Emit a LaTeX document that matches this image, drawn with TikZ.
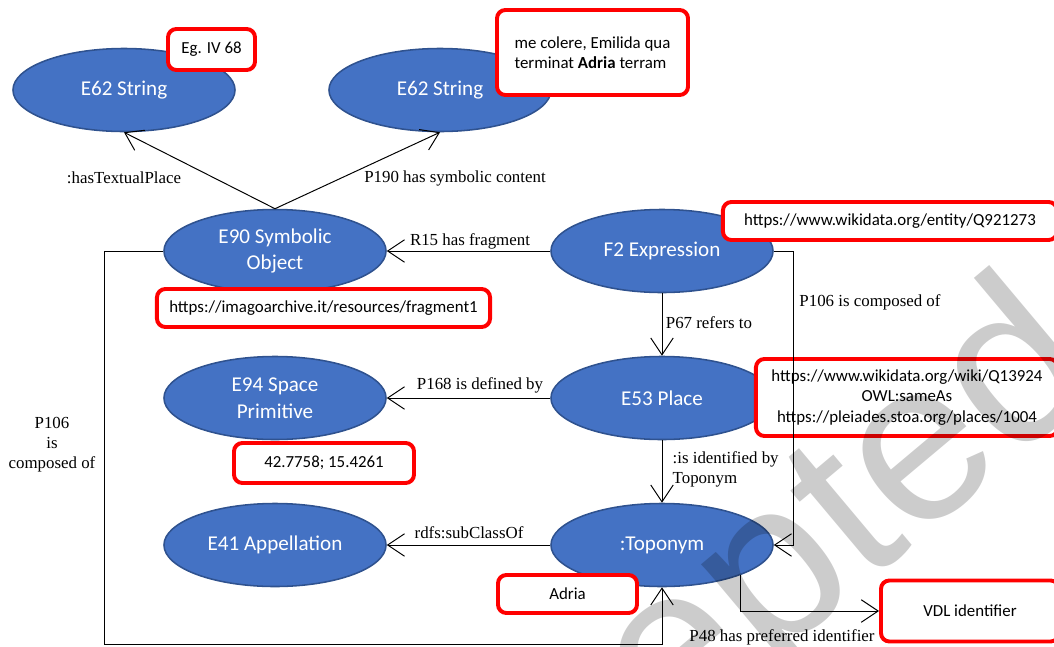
\documentclass[tikz,border=0pt]{standalone}
\usepackage{fontspec}
\setmainfont{Liberation Serif}
\newfontfamily\calibri{Carlito}
\newfontfamily\wmfont{Liberation Sans}
\usetikzlibrary{shapes.geometric,arrows.meta}
\definecolor{entblue}{HTML}{4472C4}
\definecolor{entborder}{HTML}{2F528F}

\begin{document}
\begin{tikzpicture}[x=0.025cm, y=-0.025cm,
    entity/.style ={ellipse, draw=entborder, line width=1.1pt, fill=entblue, text=white,
      minimum width=5.55cm, minimum height=2.075cm, inner sep=0pt, align=center,
      font=\calibri\fontsize{15}{19}\selectfont},
    literal/.style ={rectangle, rounded corners=6pt, draw=red, line width=2.8pt, fill=white,
      inner sep=0pt, align=center, font=\calibri\fontsize{12}{14.5}\selectfont},
    rel/.style ={line width=0.7pt, -{Straight Barb[length=12pt,width=16pt]}},
    relname/.style ={inner sep=1pt, align=center, font=\fontsize{12}{14.2}\selectfont},
    watermark/.style ={rotate=40, text=black, opacity=0.2, inner sep=0pt,
      font=\wmfont\fontsize{162}{162}\selectfont}]
   \useasboundingbox (0,0) rectangle (1054,646);
   \clip (0,0) rectangle (1054,646);
   % classes
   \node[entity] (str1) at (124,90) {E62 String};
   \node[entity] (str2) at (440,90) {E62 String};
   \node[entity] (symobj) at (275,251) {E90 Symbolic\\Object};
   \node[entity] (expr) at (662,251) {F2 Expression};
   \node[entity] (spaceprim) at (275,398) {E94 Space\\Primitive};
   \node[entity] (place) at (662,398) {E53 Place};
   \node[entity] (appel) at (275,545) {E41 Appellation};
   \node[entity] (topo) at (662,545) {:Toponym};
   % instances
   \node[literal, minimum width=2.175cm, minimum height=1.025cm] (eg) at (211.5,49.5) {Eg. IV 68};
   \node[literal, minimum width=4.775cm, minimum height=2.125cm, align=left] (verse) at (592.5,52.5)
     {me colere, Emilida qua\\terminat \textbf{Adria} terram};
   \node[literal, minimum width=8.325cm, minimum height=0.95cm] (frag) at (323.5,308)
     {https://imagoarchive.it/resources/fragment1};
   \node[literal, minimum width=8.35cm, minimum height=0.95cm] (wdent) at (890,221)
     {https://www.wikidata.org/entity/Q921273};
   \node[literal, minimum width=7.55cm, minimum height=1.925cm] (wdwiki) at (907,397.5)
     {https://www.wikidata.org/wiki/Q13924\\OWL:sameAs\\https://pleiades.stoa.org/places/1004};
   \node[literal, minimum width=4.5cm, minimum height=1cm] (coord) at (324,463) {42.7758; 15.4261};
   \node[literal, minimum width=3.475cm, minimum height=0.95cm] (adria) at (567.5,594) {Adria};
   \node[literal, minimum width=4.45cm, minimum height=1.525cm] (vdl) at (970,611) {VDL identifier};
   % properties
   \draw[rel] (symobj.north) to (str1.south);
   \draw[rel] (symobj.north) to (str2.south);
   \draw[rel] (expr.west) to (symobj.east);
   \draw[rel] (expr.south) to (place.north);
   \draw[rel] (place.west) to (spaceprim.east);
   \draw[rel] (place.south) to (topo.north);
   \draw[rel] (topo.west) to (appel.east);
   \draw[rel] (expr.east) -- ++(20,0) |- (topo.east);
   \coordinate (leftcorner) at (104,644);
   \draw[rel] (symobj.west) -| (leftcorner) -| (topo.south);
   \draw[rel] (topo.-21) |- (vdl.west);
   \node[relname] (hastp) at (124,178) {:hasTextualPlace};
   \node[relname] (p190) at (455,178) {P190 has symbolic content};
   \node[relname] (r15) at (470,241) {R15 has fragment};
   \node[relname] (p106r) at (870,302) {P106 is composed of};
   \node[relname] (p67) at (709,323) {P67 refers to};
   \node[relname] (p168) at (480,385) {P168 is defined by};
   \node[relname, anchor=west, align=left] (isid) at (671,469) {:is identified by\\Toponym};
   \node[relname] (rdfs) at (469,533) {rdfs:subClassOf};
   \node[relname] (p106l) at (52,445) {P106\\is\\composed of};
   \node[relname] (p48) at (782,637) {P48 has preferred identifier};
   % watermark
   \node[watermark] (wm) at (706,642) {Accepted};
 \end{tikzpicture}
\end{document}
